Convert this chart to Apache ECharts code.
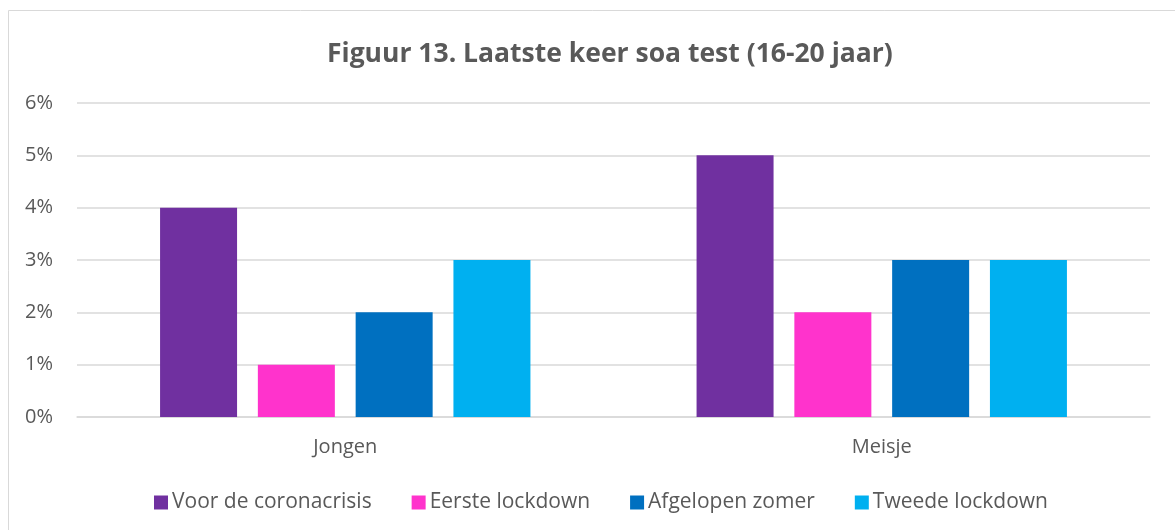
<!DOCTYPE html>
<html>
<head>
<meta charset="utf-8">
<script src="https://cdn.jsdelivr.net/npm/echarts@6/dist/echarts.min.js"></script>
<style>
  html, body { margin: 0; padding: 0; background: #fff; }
  #chart { width: 1175px; height: 530px; }
</style>
</head>
<body>
<div id="chart"></div>
<script>
// data (percent)
const categories = ['Jongen', 'Meisje']
const seriesNames = ['Voor de coronacrisis', 'Eerste lockdown', 'Afgelopen zomer', 'Tweede lockdown']
const voorCorona = [4, 5]
const eersteLockdown = [1, 2]
const afgelopenZomer = [2, 3]
const tweedeLockdown = [3, 3]
const colors = ['#7030A0', '#FF33CC', '#0070C0', '#00B0F0']

const values = [voorCorona, eersteLockdown, afgelopenZomer, tweedeLockdown]
const font = '"Open Sans", "Noto Sans", sans-serif'
const grey = '#595959'

const chart = echarts.init(document.getElementById('chart'))

chart.setOption({
  animation: false,
  color: colors,
  title: {
    text: 'Figuur 13. Laatste keer soa test (16-20 jaar)',
    left: 322,
    top: 36,
    textStyle: { fontFamily: font, fontSize: 26.5, fontWeight: 'bold', color: grey }
  },
  legend: {
    data: seriesNames,
    left: 149,
    top: 487,
    itemWidth: 14,
    itemHeight: 14,
    itemGap: 40,
    icon: 'rect',
    textStyle: { fontFamily: font, fontSize: 21, color: grey, padding: [0, 0, 0, -1] }
  },
  grid: { left: 77, right: 25, top: 103, bottom: 113, containLabel: false },
  xAxis: {
    type: 'category',
    data: categories,
    axisLine: { lineStyle: { color: '#d9d9d9', width: 1.5 } },
    axisTick: { show: false },
    axisLabel: { fontFamily: font, fontSize: 20, color: grey, margin: 20 }
  },
  yAxis: {
    type: 'value',
    min: 0,
    max: 6,
    interval: 1,
    axisLine: { show: false },
    axisTick: { show: false },
    splitLine: { lineStyle: { color: '#d9d9d9', width: 1.5 } },
    axisLabel: { fontFamily: font, fontSize: 20, color: grey, margin: 24, formatter: '{value}%' }
  },
  graphic: [{
    type: 'rect',
    silent: true,
    shape: { x: 8.5, y: 10.5, width: 1200, height: 600 },
    style: { fill: 'none', stroke: '#d9d9d9', lineWidth: 1 }
  }],
  series: seriesNames.map((name, i) => ({
    name: name,
    type: 'bar',
    data: values[i],
    barWidth: 77,
    barGap: '27%',
    itemStyle: { color: colors[i] }
  }))
})
</script>
</body>
</html>
